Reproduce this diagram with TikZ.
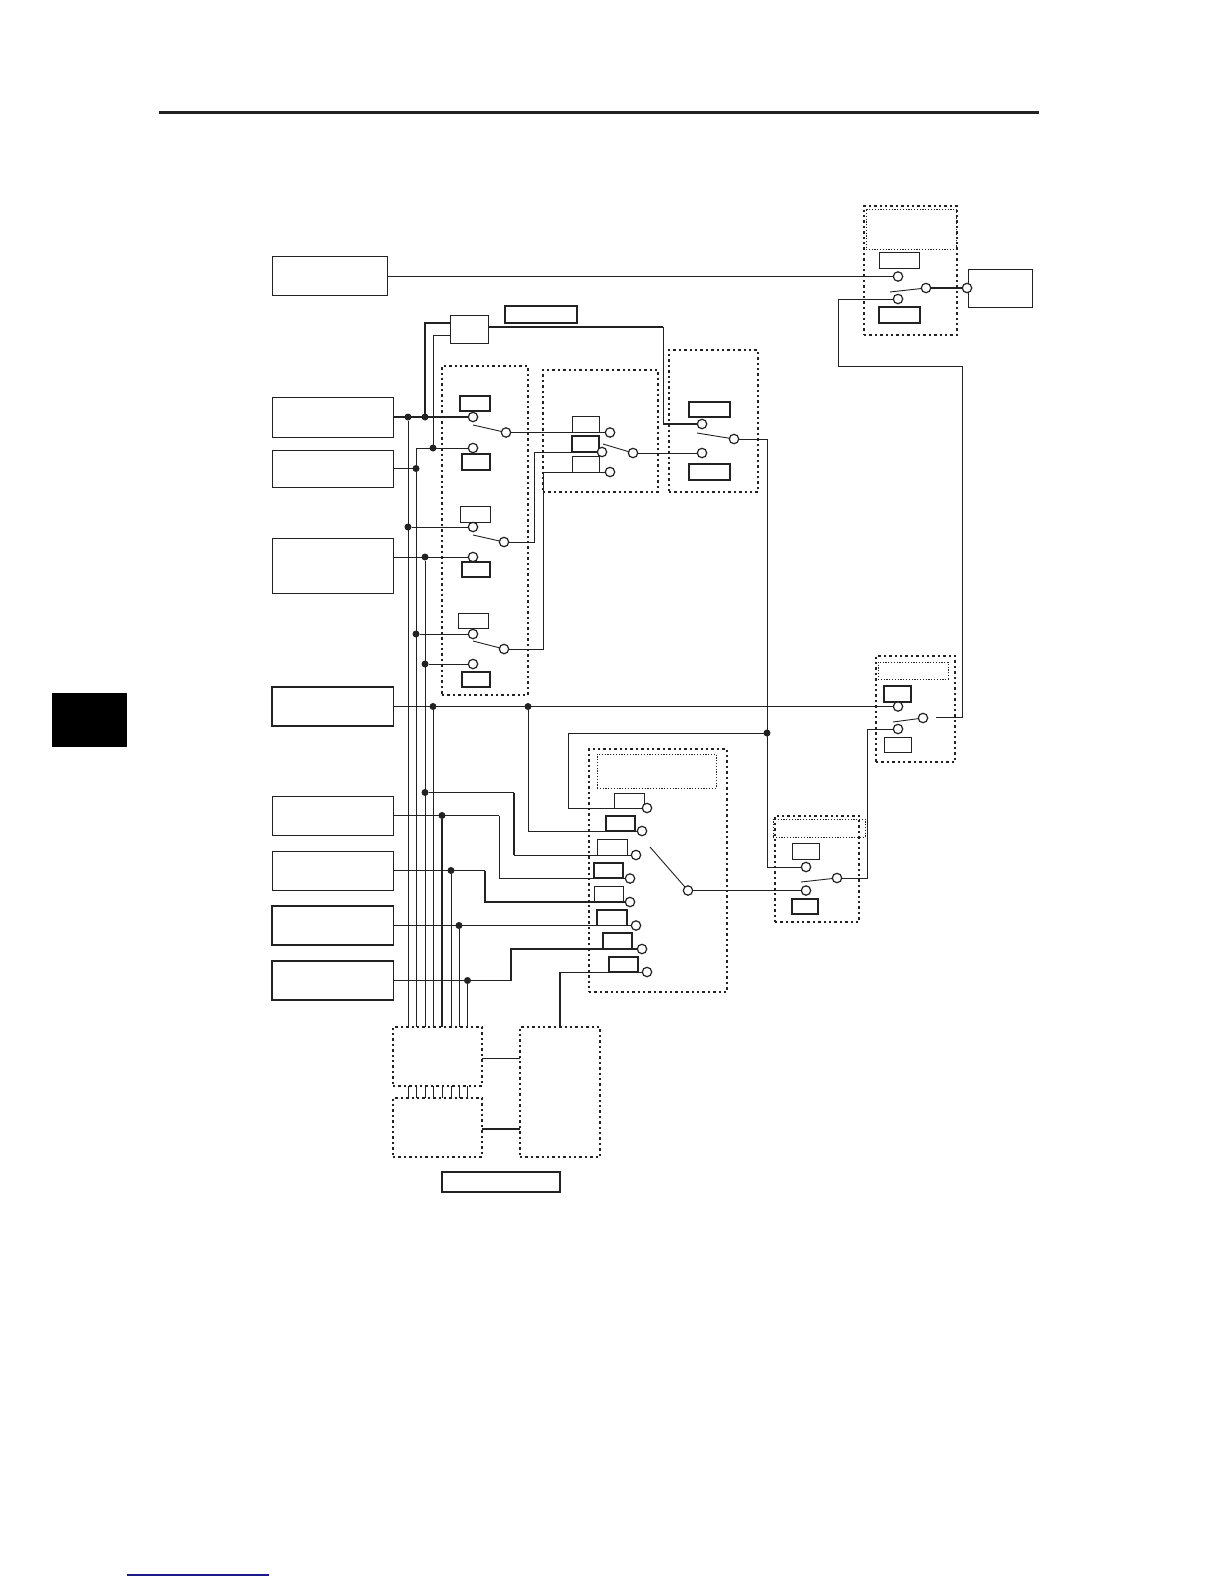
\documentclass[tikz,border=0pt]{standalone}
\definecolor{ink}{HTML}{222222}
\definecolor{navyline}{HTML}{1A1A8C}
\newcommand{\bx}[6]{%
  \pgfmathsetmacro\bxw{(#4-#2)*0.5}%
  \pgfmathsetmacro\bxh{(#5-#3)*0.5}%
  \pgfmathsetmacro\bxx{(#2+#4)/2}%
  \pgfmathsetmacro\bxy{(#3+#5)/2}%
  \node[#6,minimum width=\bxw pt,minimum height=\bxh pt] (#1) at (\bxx,\bxy) {};}
\tikzset{
  every node/.style={inner sep=0pt,outer sep=0pt},
  thinbox/.style={draw=ink,line width=0.45pt,rectangle},
  boldbox/.style={draw=ink,line width=0.65pt,rectangle},
  dotbox/.style={draw=ink,line width=1.1pt,dash pattern=on 1.2pt off 1.5pt,rectangle},
  finedot/.style={draw=ink,line width=0.5pt,dash pattern=on 0.6pt off 0.8pt,rectangle},
  term/.style={circle,draw=ink,fill=white,line width=0.6pt,minimum size=4.7pt},
  junc/.style={circle,fill=ink,minimum size=3.5pt},
  wire/.style={draw=ink,line width=0.45pt},
  fat/.style={draw=ink,line width=0.85pt},
}
\begin{document}
\begin{tikzpicture}[x=0.5pt,y=-0.5pt,line join=miter]
\useasboundingbox[fill=white] (0,0) rectangle (1224,1584);
% page furniture
\coordinate (ruleL) at (158.5,112.5); \coordinate (ruleR) at (1039,112.5);
\draw[ink,line width=1.4pt] (ruleL) -- (ruleR);
\bx{tab}{52}{693}{127}{747}{fill=black}
\coordinate (blueL) at (127,1575); \coordinate (blueR) at (269,1575);
\draw[navyline,line width=0.7pt] (blueL) -- (blueR);

% source boxes
\bx{src1}{272}{256}{387.5}{295}{thinbox}
\bx{src2}{272}{397}{393.5}{437}{thinbox}
\bx{src3}{272}{450}{393.5}{487}{thinbox}
\bx{src4}{272}{538}{393.5}{593}{thinbox}
\bx{src5}{272}{687}{393.5}{726}{boldbox}
\bx{src6}{272}{796}{393.5}{835}{thinbox}
\bx{src7}{272}{851}{393.5}{890}{thinbox}
\bx{src8}{272}{906}{393.5}{945}{boldbox}
\bx{src9}{272}{961}{393.5}{1000}{boldbox}
\bx{mux}{450}{315}{488}{343}{thinbox}
\bx{muxlabel}{505}{306}{577}{323}{boldbox}
\bx{outbox}{968}{269}{1032}{307}{thinbox}

% dotted groups
\bx{grpA}{442}{366}{528}{695}{dotbox}
\bx{grpB}{543}{370}{658}{492}{dotbox}
\bx{grpC}{669}{350}{758}{492}{dotbox}
\bx{grpD}{864}{206}{957}{335}{dotbox}
\bx{grpDi}{866}{209}{956}{249}{finedot}
\bx{grpE}{876}{656}{955}{762}{dotbox}
\bx{grpEi}{878}{662}{948}{679}{finedot}
\bx{grpF}{775}{816}{859}{922}{dotbox}
\bx{grpFi}{773}{819}{865}{837}{finedot}
\bx{grpG}{589}{749}{727}{992}{dotbox}
\bx{grpGi}{597}{754}{716}{788}{finedot}
\bx{grpH}{393}{1027}{482}{1086}{dotbox}
\bx{grpI}{393}{1098}{482}{1157}{dotbox}
\bx{grpJ}{520}{1027}{600}{1157}{dotbox}
\bx{botlabel}{442}{1172}{560}{1192}{boldbox}

% small label boxes
\bx{la1}{460}{396}{490}{411}{boldbox}
\bx{la2}{462}{454}{490}{470}{boldbox}
\bx{la3}{460}{506}{490}{522}{thinbox}
\bx{la4}{462}{562}{490}{577}{boldbox}
\bx{la5}{458}{613}{488}{628}{thinbox}
\bx{la6}{462}{672}{490}{687}{boldbox}
\bx{lb1}{572}{416}{599}{432}{thinbox}
\bx{lb2}{572}{436}{599}{452}{boldbox}
\bx{lb3}{572}{456}{599}{472}{thinbox}
\bx{lc1}{689}{402}{730}{417}{boldbox}
\bx{lc2}{689}{464}{730}{480}{boldbox}
\bx{ld1}{879}{252}{919}{268}{thinbox}
\bx{ld2}{879}{307}{920}{323}{boldbox}
\bx{le1}{884}{686}{911}{702}{boldbox}
\bx{le2}{884}{737}{911}{752}{thinbox}
\bx{lf1}{792}{843}{819}{859}{thinbox}
\bx{lf2}{792}{899}{818}{914}{boldbox}
\bx{lg1}{614}{793}{644}{808}{thinbox}
\bx{lg2}{606}{816}{635}{831}{boldbox}
\bx{lg3}{597}{839}{627}{855}{thinbox}
\bx{lg4}{594}{863}{623}{878}{boldbox}
\bx{lg5}{594}{886}{623}{902}{thinbox}
\bx{lg6}{597}{910}{627}{925.5}{boldbox}
\bx{lg7}{603}{933}{632}{949}{boldbox}
\bx{lg8}{609}{957}{638}{972}{boldbox}

% terminals
\node[term] (ta1) at (473,417) {};
\node[term] (ta2) at (473,448) {};
\node[term] (ta3) at (473,527) {};
\node[term] (ta4) at (473,557) {};
\node[term] (ta5) at (473,634) {};
\node[term] (ta6) at (473,664) {};
\node[term] (sa1) at (506,432.5) {};
\node[term] (sa2) at (504,542) {};
\node[term] (sa3) at (504,649) {};
\node[term] (tb1) at (610,432.5) {};
\node[term] (tb2) at (602,452) {};
\node[term] (tb3) at (610,472) {};
\node[term] (sb) at (633,453) {};
\node[term] (tc1) at (702,424) {};
\node[term] (tc2) at (702,453) {};
\node[term] (sc) at (734,439) {};
\node[term] (td1) at (898,276.5) {};
\node[term] (td2) at (898,299) {};
\node[term] (sd) at (926,288) {};
\node[term] (to) at (967,288) {};
\node[term] (te1) at (898,706.5) {};
\node[term] (te2) at (898,729) {};
\node[term] (se) at (923,718) {};
\node[term] (tf1) at (806,867) {};
\node[term] (tf2) at (806,890.5) {};
\node[term] (sf) at (837,878) {};
\node[term] (tg1) at (647,808) {};
\node[term] (tg2) at (642,831) {};
\node[term] (tg3) at (636,855) {};
\node[term] (tg4) at (630,878.5) {};
\node[term] (tg5) at (630,902) {};
\node[term] (tg6) at (636,925.5) {};
\node[term] (tg7) at (642,949) {};
\node[term] (tg8) at (647,972) {};
\node[term] (sg) at (688,890.5) {};

% junctions
\node[junc] (j1) at (408,417) {};
\node[junc] (j2) at (425,417) {};
\node[junc] (j3) at (416,468.5) {};
\node[junc] (j4) at (433,448) {};
\node[junc] (j5) at (408,527) {};
\node[junc] (j6) at (425,557) {};
\node[junc] (j7) at (416,634) {};
\node[junc] (j8) at (425,664) {};
\node[junc] (j9) at (433,706.5) {};
\node[junc] (j10) at (528,706.5) {};
\node[junc] (j11) at (425,792.5) {};
\node[junc] (j12) at (442,815.5) {};
\node[junc] (j13) at (451,870.5) {};
\node[junc] (j14) at (459,925.5) {};
\node[junc] (j15) at (467.5,980.5) {};
\node[junc] (j16) at (767,733) {};

% horizontal feeders from the sources
\draw[wire] (src1.east |- td1) -- (td1);
\draw[fat] (src2.east) -- (ta1);
\draw[fat] (src3.east) -- (j3);
\draw[wire] (src4.east |- ta4) -- (ta4);
\draw[wire] (src5.east) -- (te1);
\coordinate (c416) at (416,448);
\draw[wire] (ta2) -- (c416) -- (c416 |- grpH.north);
\draw[wire] (j5) -- (ta3);
\draw[wire] (j7) -- (ta5);
\draw[wire] (j8) -- (ta6);

% bus lines
\draw[wire] (j1) -- (j1 |- grpH.north);
\draw[wire] (j6) -- (j6 |- grpH.north);
\draw[wire] (j9) -- (j9 |- grpH.north);
\draw[fat] (j12) -- (j12 |- grpH.north);
\draw[wire] (j13) -- (j13 |- grpH.north);
\draw[wire] (j14) -- (j14 |- grpH.north);
\draw[fat] (j15) -- (j15 |- grpH.north);
\coordinate (muxA) at (450,322.7); \coordinate (busA) at (425,322.7);
\coordinate (muxB) at (450,335); \coordinate (busB) at (433,335);
\draw[fat] (muxA) -- (busA) -- (j2);
\draw[wire] (muxB) -- (busB) -- (j4);
\foreach \nm/\jn in {s1/j1,s2/c416,s3/j6,s4/j9,s5/j12,s6/j13,s7/j14,s8/j15}{
  \draw[wire] (\jn |- grpH.south) -- (\jn |- grpI.north);
}

% group A outputs
\coordinate (ka2) at (534,542); \coordinate (kb2) at (534,452);
\coordinate (ka3) at (543,649); \coordinate (kb3) at (543,472);
\draw[wire] (sa1) -- (tb1);
\draw[wire] (sa2) -- (ka2) -- (kb2) -- (tb2);
\draw[wire] (sa3) -- (ka3) -- (kb3) -- (tb3);
\draw[wire] (sb) -- (tc2);

% mux to group C, group C to F and G
\coordinate (mr1) at (488,327); \coordinate (mr2) at (663,327); \coordinate (mr3) at (663,424);
\draw[fat] (mr1) -- (mr2);
\draw[wire] (mr2) -- (mr3);
\draw[fat] (mr3) -- (tc1);
\coordinate (kc1) at (767,439); \coordinate (kc2) at (767,867);
\draw[wire] (sc) -- (kc1) -- (kc2) -- (tf1);
\coordinate (kg1) at (568,733); \coordinate (kg2) at (568,808);
\draw[wire] (j16) -- (kg1) -- (kg2) -- (tg1);

% group G inputs
\coordinate (g2a) at (528,831);
\draw[wire] (j10) -- (g2a) -- (tg2);
\coordinate (g3a) at (514,792.5); \coordinate (g3b) at (514,855);
\draw[wire] (j11) -- (g3a);
\draw[fat] (g3a) -- (g3b);
\draw[wire] (g3b) -- (tg3);
\coordinate (g4a) at (499,815.5); \coordinate (g4b) at (499,878.5);
\draw[fat] (src6.east) -- (g4a);
\draw[wire] (g4a) -- (g4b) -- (tg4);
\coordinate (g5a) at (485,870.5); \coordinate (g5b) at (485,902);
\draw[wire] (src7.east) -- (g5a);
\draw[fat] (g5a) -- (g5b) -- (tg5);
\draw[wire] (src8.east) -- (tg6);
\coordinate (g7a) at (511,980.5); \coordinate (g7b) at (511,949);
\draw[wire] (src9.east) -- (g7a);
\draw[fat] (g7a) -- (g7b) -- (tg7);
\coordinate (g8a) at (560,972);
\draw[fat] (grpJ.north) -- (g8a);
\draw[wire] (g8a) -- (tg8);
\draw[wire] (sg) -- (tf2);

% group F to E to D
\coordinate (ef1) at (867,878); \coordinate (ef2) at (867,729);
\draw[wire] (sf) -- (ef1) -- (ef2) -- (te2);
\coordinate (de1) at (936,717); \coordinate (de2) at (962,717);
\coordinate (de3) at (962,366); \coordinate (de4) at (838,366); \coordinate (de5) at (838,299);
\draw[wire] (de1) -- (de2) -- (de3) -- (de4) -- (de5) -- (td2);
\draw[wire,line width=0.65pt] (sd) -- (to);

% bottom links
\coordinate (hj1) at (482,1058); \coordinate (hj2) at (520,1058);
\coordinate (ij1) at (482,1129); \coordinate (ij2) at (520,1129);
\draw[wire] (hj1) -- (hj2);
\draw[fat] (ij1) -- (ij2);

% switch arms
\coordinate (arA1) at (473,425); \draw[wire] (arA1) -- (sa1);
\coordinate (arA2) at (473,535); \draw[wire] (arA2) -- (sa2);
\coordinate (arA3) at (473,641); \draw[wire] (arA3) -- (sa3);
\coordinate (arB) at (603,444); \draw[wire] (arB) -- (sb);
\coordinate (arC) at (697,433); \draw[wire] (arC) -- (sc);
\coordinate (arD) at (890,292); \draw[wire] (arD) -- (sd);
\coordinate (arE) at (893,722); \draw[wire] (arE) -- (se);
\coordinate (arF) at (801,882); \draw[wire] (arF) -- (sf);
\coordinate (arG) at (650,847); \draw[wire] (arG) -- (sg);
\end{tikzpicture}
\end{document}
